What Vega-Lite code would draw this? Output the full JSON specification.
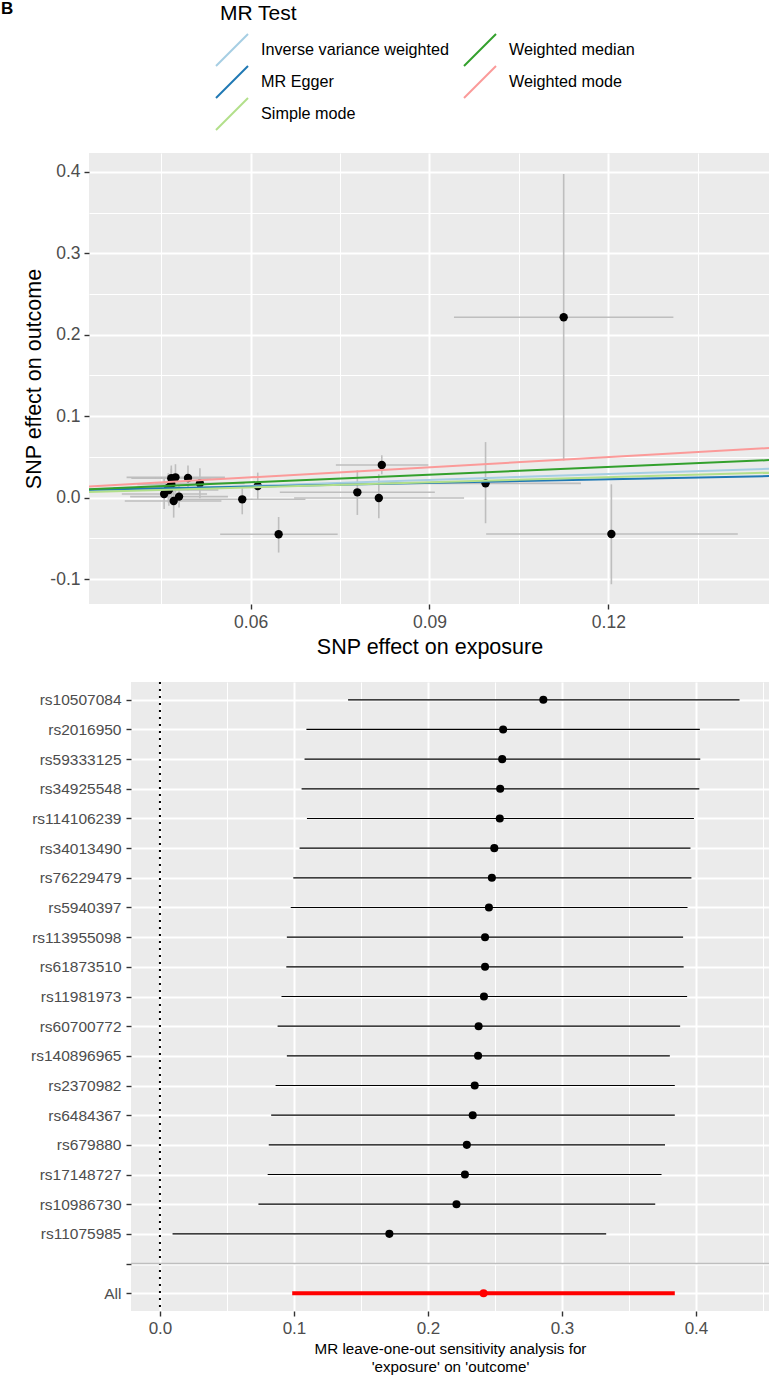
{
  "$schema": "https://vega.github.io/schema/vega-lite/v6.json",
  "background": "white",
  "padding": {"left": 1, "top": 0, "right": 0, "bottom": 0},
  "config": {
    "font": "Liberation Sans",
    "view": {"fill": "#EBEBEB", "stroke": null},
    "axis": {
      "domain": false,
      "tickColor": "#333333",
      "tickWidth": 1.4,
      "tickSize": 5,
      "labelColor": "#4D4D4D",
      "titleColor": "#000000",
      "titleFontWeight": "normal",
      "gridColor": "#FFFFFF",
      "labelFont": "Liberation Sans",
      "titleFont": "Liberation Sans"
    }
  },
  "datasets": {
    "snps": [
      {"bx": 0.1125, "by": 0.2216, "bx_lo": 0.0941, "bx_hi": 0.1309, "by_lo": 0.0456, "by_hi": 0.3975},
      {"bx": 0.1205, "by": -0.0447, "bx_lo": 0.0995, "bx_hi": 0.1417, "by_lo": -0.1064, "by_hi": 0.0163},
      {"bx": 0.0994, "by": 0.0175, "bx_lo": 0.0834, "bx_hi": 0.1154, "by_lo": -0.0315, "by_hi": 0.0682},
      {"bx": 0.0820, "by": 0.0400, "bx_lo": 0.0743, "bx_hi": 0.0898, "by_lo": 0.0286, "by_hi": 0.0520},
      {"bx": 0.0779, "by": 0.0065, "bx_lo": 0.0649, "bx_hi": 0.0909, "by_lo": -0.0213, "by_hi": 0.0335},
      {"bx": 0.0815, "by": -0.0005, "bx_lo": 0.0673, "bx_hi": 0.0958, "by_lo": -0.0254, "by_hi": 0.0286},
      {"bx": 0.0647, "by": -0.0450, "bx_lo": 0.0549, "bx_hi": 0.0746, "by_lo": -0.0675, "by_hi": -0.0238},
      {"bx": 0.0586, "by": -0.0021, "bx_lo": 0.0478, "bx_hi": 0.0692, "by_lo": -0.0205, "by_hi": 0.0114},
      {"bx": 0.0612, "by": 0.0143, "bx_lo": 0.0590, "bx_hi": 0.0634, "by_lo": -0.0020, "by_hi": 0.0307},
      {"bx": 0.0455, "by": 0.0044, "bx_lo": 0.0384, "bx_hi": 0.0527, "by_lo": -0.0140, "by_hi": 0.0228},
      {"bx": 0.0467, "by": 0.0237, "bx_lo": 0.0400, "bx_hi": 0.0534, "by_lo": 0.0080, "by_hi": 0.0394},
      {"bx": 0.0474, "by": 0.0249, "bx_lo": 0.0392, "bx_hi": 0.0557, "by_lo": 0.0060, "by_hi": 0.0410},
      {"bx": 0.0467, "by": 0.0163, "bx_lo": 0.0410, "bx_hi": 0.0524, "by_lo": -0.0030, "by_hi": 0.0356},
      {"bx": 0.0463, "by": 0.0093, "bx_lo": 0.0380, "bx_hi": 0.0546, "by_lo": -0.0100, "by_hi": 0.0286},
      {"bx": 0.0471, "by": -0.0042, "bx_lo": 0.0389, "bx_hi": 0.0551, "by_lo": -0.0246, "by_hi": 0.0162},
      {"bx": 0.0480, "by": 0.0012, "bx_lo": 0.0398, "bx_hi": 0.0562, "by_lo": -0.0121, "by_hi": 0.0145},
      {"bx": 0.0495, "by": 0.0241, "bx_lo": 0.0440, "bx_hi": 0.0550, "by_lo": 0.0088, "by_hi": 0.0394},
      {"bx": 0.0515, "by": 0.0175, "bx_lo": 0.0440, "bx_hi": 0.0590, "by_lo": -0.0009, "by_hi": 0.0359},
      {"bx": 0.0462, "by": 0.0120, "bx_lo": 0.0370, "bx_hi": 0.0554, "by_lo": -0.0060, "by_hi": 0.0300}
    ],
    "lines": [
      {"method": "Inverse variance weighted", "x": 0.0329, "y": 0.00795},
      {"method": "Inverse variance weighted", "x": 0.1471, "y": 0.0355},
      {"method": "MR Egger", "x": 0.0329, "y": 0.0096},
      {"method": "MR Egger", "x": 0.1471, "y": 0.0265},
      {"method": "Simple mode", "x": 0.0329, "y": 0.0069},
      {"method": "Simple mode", "x": 0.1471, "y": 0.0307},
      {"method": "Weighted median", "x": 0.0329, "y": 0.0103},
      {"method": "Weighted median", "x": 0.1471, "y": 0.0461},
      {"method": "Weighted mode", "x": 0.0329, "y": 0.0136},
      {"method": "Weighted mode", "x": 0.1471, "y": 0.0609}
    ],
    "loo": [
      {"snp": "rs10507084", "type": "snp", "b": 0.2861, "lo": 0.1404, "hi": 0.4325},
      {"snp": "rs2016950", "type": "snp", "b": 0.2561, "lo": 0.1093, "hi": 0.4029},
      {"snp": "rs59333125", "type": "snp", "b": 0.2554, "lo": 0.1079, "hi": 0.4032},
      {"snp": "rs34925548", "type": "snp", "b": 0.2539, "lo": 0.1057, "hi": 0.4025},
      {"snp": "rs114106239", "type": "snp", "b": 0.2536, "lo": 0.1097, "hi": 0.3985},
      {"snp": "rs34013490", "type": "snp", "b": 0.2495, "lo": 0.1042, "hi": 0.3959},
      {"snp": "rs76229479", "type": "snp", "b": 0.2477, "lo": 0.0995, "hi": 0.3966},
      {"snp": "rs5940397", "type": "snp", "b": 0.2455, "lo": 0.0976, "hi": 0.3937},
      {"snp": "rs113955098", "type": "snp", "b": 0.2426, "lo": 0.0947, "hi": 0.3904},
      {"snp": "rs61873510", "type": "snp", "b": 0.2426, "lo": 0.0943, "hi": 0.3908},
      {"snp": "rs11981973", "type": "snp", "b": 0.2418, "lo": 0.0907, "hi": 0.3934},
      {"snp": "rs60700772", "type": "snp", "b": 0.2378, "lo": 0.0878, "hi": 0.3882},
      {"snp": "rs140896965", "type": "snp", "b": 0.2374, "lo": 0.0947, "hi": 0.3805},
      {"snp": "rs2370982", "type": "snp", "b": 0.2349, "lo": 0.0863, "hi": 0.3842},
      {"snp": "rs6484367", "type": "snp", "b": 0.2334, "lo": 0.0830, "hi": 0.3842},
      {"snp": "rs679880", "type": "snp", "b": 0.2290, "lo": 0.0812, "hi": 0.3769},
      {"snp": "rs17148727", "type": "snp", "b": 0.2276, "lo": 0.0804, "hi": 0.3743},
      {"snp": "rs10986730", "type": "snp", "b": 0.2213, "lo": 0.0735, "hi": 0.3696},
      {"snp": "rs11075985", "type": "snp", "b": 0.1712, "lo": 0.0094, "hi": 0.3330},
      {"snp": "All", "type": "all", "b": 0.2415, "lo": 0.0987, "hi": 0.3842}
    ],
    "sep": [{"snp": ""}]
  },
  "spacing": 23,
  "resolve": {"scale": {"color": "independent", "size": "independent"}, "legend": {"color": "independent", "size": "independent"}},
  "vconcat": [
    {
      "spacing": 0,
      "hconcat": [
        {
          "width": 1,
          "height": 1,
          "view": {"fill": null, "stroke": null},
          "title": {"text": "B", "anchor": "start", "fontSize": 17, "fontWeight": "bold", "color": "#000000", "dx": -21, "dy": -131, "offset": 4},
          "data": {"values": [{}]},
          "mark": {"type": "point", "size": 0, "opacity": 0}
        },
        {
          "width": 681,
          "height": 451,
          "data": {"name": "snps"},
          "layer": [
            {
              "mark": {"type": "rule", "color": "#BEBEBE", "strokeWidth": 1.6},
              "encoding": {
                "x": {"field": "bx_lo", "type": "quantitative",
                      "scale": {"domain": [0.0329, 0.1471], "nice": false, "zero": false},
                      "axis": {"orient": "bottom", "values": [0.045, 0.075, 0.105, 0.135], "grid": true, "gridWidth": 1, "labels": false, "ticks": false, "title": null}},
                "x2": {"field": "bx_hi"},
                "y": {"field": "by", "type": "quantitative",
                      "scale": {"domain": [-0.1307, 0.4233], "nice": false, "zero": false},
                      "axis": {"orient": "left", "values": [-0.05, 0.05, 0.15, 0.25, 0.35], "grid": true, "gridWidth": 1, "labels": false, "ticks": false, "title": null}}
              }
            },
            {
              "mark": {"type": "rule", "color": "#BEBEBE", "strokeWidth": 1.6},
              "encoding": {
                "x": {"field": "bx", "type": "quantitative", "axis": null},
                "y": {"field": "by_lo", "type": "quantitative", "axis": null},
                "y2": {"field": "by_hi"}
              }
            },
            {
              "mark": {"type": "point", "filled": true, "color": "#000000", "opacity": 1, "size": 70},
              "encoding": {
                "x": {"field": "bx", "type": "quantitative",
                      "axis": {"orient": "bottom", "title": "SNP effect on exposure", "values": [0.06, 0.09, 0.12], "format": ".2f", "grid": true, "gridWidth": 2, "labelFontSize": 17.5, "titleFontSize": 21.5, "labelPadding": 4, "titlePadding": 6}},
                "y": {"field": "by", "type": "quantitative",
                      "axis": {"orient": "left", "title": "SNP effect on outcome", "values": [-0.1, 0, 0.1, 0.2, 0.3, 0.4], "labelExpr": "replace(format(datum.value, '.1f'), '\u2212', '-')", "grid": true, "gridWidth": 2, "labelFontSize": 17.5, "titleFontSize": 21.5, "labelPadding": 4, "titlePadding": 4}}
              }
            },
            {
              "data": {"name": "lines"},
              "mark": {"type": "line", "strokeWidth": 2, "clip": true},
              "encoding": {
                "x": {"field": "x", "type": "quantitative", "axis": null},
                "y": {"field": "y", "type": "quantitative", "axis": null},
                "color": {"field": "method", "type": "nominal",
                          "scale": {"domain": ["Inverse variance weighted", "MR Egger", "Simple mode", "Weighted median", "Weighted mode"],
                                    "range": ["#A6CEE3", "#1F78B4", "#B2DF8A", "#33A02C", "#FB9A99"]},
                          "legend": {"title": "MR Test", "orient": "none", "legendX": 198, "legendY": -150, "columns": 2,
                                     "symbolType": "M-1.4545,1.4545L1.4545,-1.4545", "symbolSize": 484, "symbolStrokeWidth": 2,
                                     "labelFontSize": 16.2, "labelColor": "#000000", "labelOffset": 17, "labelLimit": 400,
                                     "titleFontSize": 21, "titleFontWeight": "normal", "titleColor": "#000000", "titlePadding": 14,
                                     "rowPadding": -8, "columnPadding": 10, "padding": 0}}
              }
            }
          ],
          "resolve": {"axis": {"x": "independent", "y": "independent"}}
        }
      ]
    },
    {
      "spacing": 0,
      "hconcat": [
        {
          "width": 8,
          "height": 1,
          "view": {"fill": null, "stroke": null},
          "data": {"values": [{}]},
          "mark": {"type": "point", "size": 0, "opacity": 0}
        },
        {
          "width": 638,
          "height": 629,
          "layer": [
            {
              "data": {"values": [{}]},
              "mark": {"type": "rule", "color": "#000000", "strokeWidth": 2, "strokeDash": [2, 5]},
              "encoding": {
                "x": {"datum": 0, "type": "quantitative",
                      "scale": {"domain": [-0.0216, 0.4545], "nice": false, "zero": false},
                      "axis": {"orient": "bottom", "values": [0.05, 0.15, 0.25, 0.35, 0.45], "grid": true, "gridWidth": 1, "labels": false, "ticks": false, "title": null}}
              }
            },
            {
              "data": {"name": "loo"},
              "mark": {"type": "rule"},
              "encoding": {
                "x": {"field": "lo", "type": "quantitative",
                      "axis": {"orient": "bottom", "title": ["MR leave-one-out sensitivity analysis for", "'exposure' on 'outcome'"], "values": [0, 0.1, 0.2, 0.3, 0.4], "format": ".1f", "grid": true, "gridWidth": 2, "labelFontSize": 17, "titleFontSize": 15.2, "titleLineHeight": 18.5, "labelPadding": 4, "titlePadding": 5}},
                "x2": {"field": "hi"},
                "y": {"field": "snp", "type": "nominal",
                      "scale": {"type": "point", "padding": 0.6, "domain": ["rs10507084", "rs2016950", "rs59333125", "rs34925548", "rs114106239", "rs34013490", "rs76229479", "rs5940397", "rs113955098", "rs61873510", "rs11981973", "rs60700772", "rs140896965", "rs2370982", "rs6484367", "rs679880", "rs17148727", "rs10986730", "rs11075985", "", "All"]},
                      "axis": {"title": null, "labelFontSize": 15.5, "grid": true, "gridWidth": 2, "labelPadding": 5}},
                "color": {"field": "type", "type": "nominal", "scale": {"domain": ["snp", "all"], "range": ["#000000", "#FF0000"]}, "legend": null},
                "size": {"field": "type", "type": "nominal", "scale": {"domain": ["snp", "all"], "range": [1.2, 4]}, "legend": null}
              }
            },
            {
              "data": {"name": "loo"},
              "mark": {"type": "point", "filled": true, "opacity": 1, "size": 65},
              "encoding": {
                "x": {"field": "b", "type": "quantitative", "axis": null},
                "y": {"field": "snp", "type": "nominal"},
                "color": {"field": "type", "type": "nominal", "legend": null}
              }
            },
            {
              "data": {"name": "sep"},
              "mark": {"type": "rule", "color": "#BEBEBE", "strokeWidth": 1.6},
              "encoding": {
                "y": {"field": "snp", "type": "nominal"}
              }
            }
          ],
          "resolve": {"axis": {"x": "independent"}}
        }
      ]
    }
  ]
}
